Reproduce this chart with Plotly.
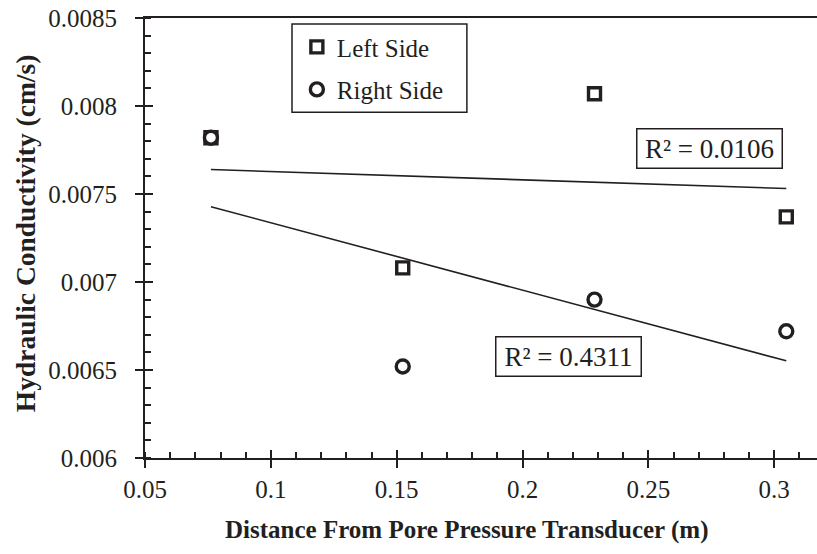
import numpy as np
import plotly.graph_objects as go

# Distance from pore pressure transducer (m)
distance = [0.0762, 0.1524, 0.2286, 0.3048]
# Hydraulic conductivity (cm/s)
left_side = [0.00782, 0.00708, 0.00807, 0.00737]
right_side = [0.00782, 0.00652, 0.00690, 0.00672]

x_tick_vals = [0.05, 0.10, 0.15, 0.20, 0.25, 0.30]
x_tick_text = ["0.05", "0.1", "0.15", "0.2", "0.25", "0.3"]
y_tick_vals = [0.0060, 0.0065, 0.0070, 0.0075, 0.0080, 0.0085]
y_tick_text = ["0.006", "0.0065", "0.007", "0.0075", "0.008", "0.0085"]

x_title = "<b>Distance From Pore Pressure Transducer (m)</b>"
y_title = "<b>Hydraulic Conductivity (cm/s)</b>"
r2_left = "R\u00b2 = 0.0106"
r2_right = "R\u00b2 = 0.4311"

INK = "#231f20"
FONT = "Liberation Serif"
X_RANGE = [0.05, 0.317]
Y_RANGE = [0.006, 0.0085]


def linear_fit(x, y):
    slope, intercept = np.polyfit(x, y, 1)
    xs = np.array([min(x), max(x)])
    return xs, slope * xs + intercept


fig = go.Figure()

# linear trend lines for each side
for ys in (left_side, right_side):
    fx, fy = linear_fit(distance, ys)
    fig.add_trace(go.Scatter(x=fx, y=fy, mode="lines", showlegend=False,
                             line=dict(color=INK, width=1.6), hoverinfo="skip"))

fig.add_trace(go.Scatter(
    x=distance, y=left_side, mode="markers", name="Left Side",
    legendgroup="left",
    marker=dict(symbol="square", size=12, color="white",
                line=dict(color=INK, width=3.4))))
fig.add_trace(go.Scatter(
    x=distance, y=right_side, mode="markers", name="Right Side",
    legendgroup="right",
    marker=dict(symbol="circle", size=13, color="white",
                line=dict(color=INK, width=3.4))))

tick_font = dict(family=FONT, size=25, color=INK)

fig.update_layout(
    width=817, height=554,
    margin=dict(l=145, r=0, t=18, b=96),
    paper_bgcolor="white", plot_bgcolor="white",
    font=dict(family=FONT, color=INK),
    xaxis=dict(
        range=X_RANGE, showgrid=False, zeroline=False,
        showline=True, linecolor=INK, linewidth=2, mirror=True,
        tickvals=x_tick_vals, ticktext=x_tick_text,
        ticks="outside", ticklen=8, tickwidth=2, tickcolor=INK,
        tickfont=tick_font,
        minor=dict(dtick=0.01, ticks="inside", ticklen=6, tickwidth=1.5,
                   tickcolor=INK, showgrid=False),
    ),
    yaxis=dict(
        range=Y_RANGE, showgrid=False, zeroline=False,
        showline=True, linecolor=INK, linewidth=2,
        tickvals=y_tick_vals, ticktext=y_tick_text,
        ticks="outside", ticklen=8, tickwidth=2, tickcolor=INK,
        tickfont=tick_font, ticklabelstandoff=13,
        minor=dict(dtick=0.0001, ticks="inside", ticklen=6, tickwidth=1.5,
                   tickcolor=INK, showgrid=False),
    ),
    # companion axes that carry the inward half of the major ticks
    xaxis2=dict(overlaying="x", matches="x", range=X_RANGE, side="bottom",
                tickvals=x_tick_vals, showticklabels=False, ticks="inside",
                ticklen=8, tickwidth=2, tickcolor=INK, showgrid=False,
                zeroline=False, showline=False),
    yaxis2=dict(overlaying="y", matches="y", range=Y_RANGE, side="left",
                tickvals=y_tick_vals, showticklabels=False, ticks="inside",
                ticklen=8, tickwidth=2, tickcolor=INK, showgrid=False,
                zeroline=False, showline=False),
    legend=dict(x=0.226, y=0.986, xanchor="left", yanchor="top",
                borderwidth=0, bgcolor="rgba(0,0,0,0)",
                font=dict(family=FONT, size=25, color=INK),
                itemwidth=30, tracegroupgap=7),
    showlegend=True,
)

# legend frame
fig.add_shape(type="rect", xref="paper", yref="paper",
              x0=0.21875, x1=0.479, y0=0.786, y1=0.9864,
              line=dict(color=INK, width=1.5), fillcolor="rgba(0,0,0,0)")

# invisible trace so the companion axes are drawn
fig.add_trace(go.Scatter(x=[X_RANGE[0]], y=[Y_RANGE[0]], xaxis="x2", yaxis="y2",
                         mode="markers", marker=dict(opacity=0), showlegend=False,
                         hoverinfo="skip"))

# axis titles
fig.add_annotation(text=x_title, xref="paper", yref="paper", x=0.479, y=-0.164,
                   xanchor="center", yanchor="middle", showarrow=False,
                   font=dict(family=FONT, size=25, color=INK))
fig.add_annotation(text=y_title, xref="paper", yref="paper", x=-0.1786, y=0.511,
                   xanchor="center", yanchor="middle", showarrow=False,
                   textangle=-90, font=dict(family=FONT, size=27.5, color=INK))

for text, px, py in ((r2_left, 0.840, 0.7023), (r2_right, 0.6302, 0.2318)):
    fig.add_annotation(text=text, xref="paper", yref="paper", x=px, y=py,
                       xanchor="center", yanchor="middle",
                       showarrow=False, bordercolor=INK, borderwidth=1.5,
                       borderpad=1, width=142, height=36, bgcolor="white",
                       font=dict(family=FONT, size=27, color=INK))

fig.write_html("out.html")
